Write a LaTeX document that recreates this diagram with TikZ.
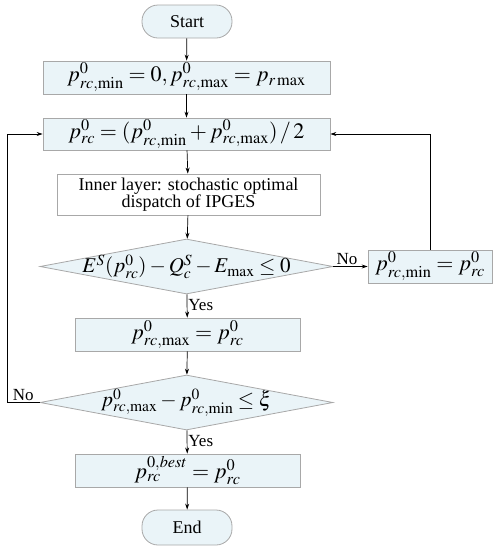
\documentclass[tikz,border=0pt]{standalone}
\usepackage{mathptmx}
\usepackage{fontspec}
\setmainfont{Liberation Serif}
\usetikzlibrary{shapes.geometric,arrows.meta}
\definecolor{boxfill}{HTML}{EAF4F8}
\definecolor{boxline}{HTML}{A8A8A8}
\tikzset{
  base/.style={draw=boxline, line width=0.8pt, inner sep=0pt, align=center, font=\fontsize{18}{20}\selectfont},
  procbox/.style={base, fill=boxfill, rectangle},
  whitebox/.style={base, fill=white, rectangle},
  termbox/.style={base, fill=boxfill, rectangle, rounded corners=16pt},
  decbox/.style={base, fill=boxfill, diamond, aspect=5.33},
  conn/.style={draw=black, line width=0.7pt, -{Stealth[length=6pt,width=4pt]}},
  lbl/.style={font=\fontsize{17}{19}\selectfont, inner sep=1pt},
  mathsz/.style={font=\fontsize{22}{24}\selectfont},
  plain/.style={inner sep=0pt, font=\fontsize{21}{23}\selectfont}
}
\begin{document}
\begin{tikzpicture}[x=1pt,y=-1pt]
\useasboundingbox (0,0) rectangle (499,550);
\node[termbox, minimum width=90pt, minimum height=33pt] (start) at (187,21.5) {Start};
\node[procbox, mathsz, minimum width=287pt, minimum height=33pt] (b1) at (186.5,77.5) {$p^{0}_{rc,\min} = 0, p^{0}_{rc,\max} = p_{r\max}$};
\node[procbox, mathsz, minimum width=287pt, minimum height=32pt] (b2) at (186.5,134) {$p^{0}_{rc} = (p^{0}_{rc,\min} + p^{0}_{rc,\max})\,/\,2$};
\node[whitebox, minimum width=263pt, minimum height=41pt] (b3) at (188.5,194.5) {Inner layer: stochastic optimal\\[-3pt]dispatch of IPGES};
\node[decbox, minimum width=293pt, minimum height=55pt] (d1) at (186.5,266.5) {};
\node[plain] (d1t) at (d1.center) {$E^{S}(p^{0}_{rc}) - Q^{S}_{c} - E_{\max} \le 0$};
\node[procbox, mathsz, minimum width=124pt, minimum height=33pt] (r) at (430,266.5) {$p^{0}_{rc,\min} = p^{0}_{rc}$};
\node[procbox, mathsz, minimum width=225pt, minimum height=33pt] (b4) at (187.5,334.5) {$p^{0}_{rc,\max} = p^{0}_{rc}$};
\node[decbox, minimum width=293pt, minimum height=55pt] (d2) at (186.5,402.5) {};
\node[plain] (d2t) at (d2.center) {$p^{0}_{rc,\max} - p^{0}_{rc,\min} \le \xi$};
\node[procbox, mathsz, minimum width=225pt, minimum height=33pt] (b5) at (187.5,470.5) {$p^{0,best}_{rc} = p^{0}_{rc}$};
\node[termbox, minimum width=90pt, minimum height=35pt] (end) at (187,527.5) {End};
\coordinate (lc) at (7,402.5);
\draw[conn] (start) -- (b1);
\draw[conn] (b1) -- (b2);
\draw[conn] (b2) -- (b3);
\draw[conn] (b3) -- (d1);
\draw[conn] (d1) -- node[lbl, right, pos=0.45] {Yes} (b4);
\draw[conn] (b4) -- (d2);
\draw[conn] (d2) -- node[lbl, right, pos=0.45] {Yes} (b5);
\draw[conn] (b5) -- (end);
\draw[conn] (d1.east) -- node[lbl, above, pos=0.4] {No} (r.west);
\draw[conn] (r.north) |- (b2.east);
\draw[conn] (d2.west) -- node[lbl, above, pos=0.5] {No} (lc) |- (b2.west);
\end{tikzpicture}
\end{document}
